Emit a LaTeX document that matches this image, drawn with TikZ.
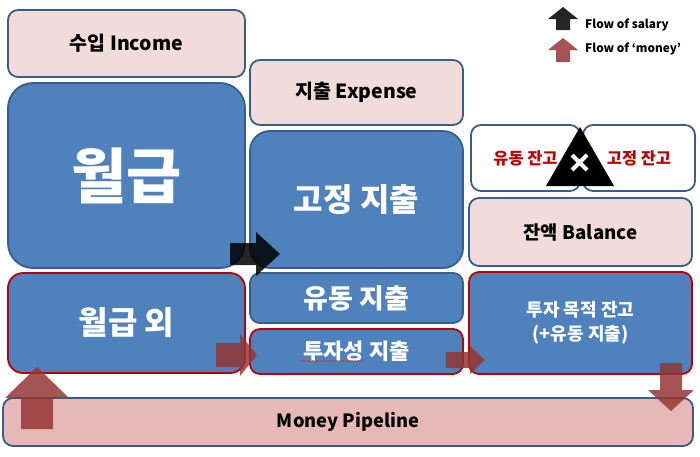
\documentclass[tikz,border=0pt]{standalone}
\usepackage{fontspec}
\setmainfont{Noto Sans CJK KR}
\usetikzlibrary{decorations.pathmorphing}
\definecolor{bfill}{HTML}{4F81BD}
\definecolor{bline}{HTML}{385D8A}
\definecolor{rline}{HTML}{C00000}
\definecolor{pfill}{HTML}{F2DCDB}
\definecolor{pipe}{HTML}{E6B9B8}
\definecolor{rarrow}{HTML}{943634}
\tikzset{
  box/.style={draw=bline, line width=1.8pt, rounded corners=10pt, inner sep=0pt, font=\bfseries, align=center},
  bluebox/.style={box, fill=bfill, text=white},
  redbluebox/.style={bluebox, draw=rline},
  pinkbox/.style={box, fill=pfill, text=black},
  whitebox/.style={box, fill=white, text=rline},
  redarrow/.style={fill=rarrow, fill opacity=0.85, draw=none},
  blackarrow/.style={fill=black, fill opacity=0.85, draw=none},
  legtext/.style={anchor=west, font=\bfseries\fontsize{11.8}{13}\selectfont, inner sep=0pt}
}
\begin{document}
\begin{tikzpicture}[x=1pt,y=-1pt]
\useasboundingbox (0,0) rectangle (700,456);
% left column
\node[pinkbox, minimum width=237pt, minimum height=67pt, font=\bfseries\fontsize{19.5}{22}\selectfont] (income) at (126.5,43.5) {수입 Income};
\node[bluebox, rounded corners=25pt, minimum width=237pt, minimum height=185pt, font=\bfseries\fontsize{60}{66}\selectfont] (salary) at (126.5,175.5) {월급};
\node[redbluebox, rounded corners=15pt, minimum width=237pt, minimum height=100pt, font=\bfseries\fontsize{32}{36}\selectfont] (other) at (126.5,323) {월급 외};
% middle column
\node[pinkbox, minimum width=213pt, minimum height=65pt, font=\bfseries\fontsize{19.5}{22}\selectfont] (expense) at (356.5,92.5) {지출 Expense};
\node[bluebox, rounded corners=20pt, minimum width=213pt, minimum height=137pt, font=\bfseries\fontsize{32}{36}\selectfont] (fixed) at (356.5,199.5) {고정 지출};
\node[bluebox, minimum width=213pt, minimum height=50pt, font=\bfseries\fontsize{27}{30}\selectfont] (flex) at (356.5,298) {유동 지출};
\node[redbluebox, minimum width=213pt, minimum height=45pt, font=\bfseries\fontsize{22}{26}\selectfont] (invest) at (356.5,351.5) {\raisebox{1.5pt}{투자성 지출}};
\draw[rline!80, line width=0.5pt, decorate, decoration={snake, amplitude=0.7pt, segment length=3pt}] (300,361) -- (362,361);
% right column
\node[whitebox, minimum width=109pt, minimum height=66pt, font=\bfseries\fontsize{16.4}{18}\selectfont] (flexbal) at (525.5,158) {유동 잔고};
\node[whitebox, minimum width=112pt, minimum height=66pt, font=\bfseries\fontsize{16.4}{18}\selectfont] (fixbal) at (639,158) {고정 잔고};
\node[pinkbox, minimum width=223pt, minimum height=68pt, font=\bfseries\fontsize{18.7}{21}\selectfont] (balance) at (580.5,232) {잔액 Balance};
\node[redbluebox, minimum width=223pt, minimum height=102pt, font=\bfseries\fontsize{18}{24}\selectfont] (investbal) at (580.5,323) {투자 목적 잔고\\(+유동 지출)};
% pipeline
\node[box, fill=pipe, minimum width=690pt, minimum height=48pt, font=\bfseries\fontsize{18.3}{21}\selectfont] (pipeline) at (348,422) {Money Pipeline};
% warning triangle
\fill[black] (580,127) -- (614,186) -- (546,186) -- cycle;
\draw[white, line width=4pt] (572,155) -- (587,170) (587,155) -- (572,170);
% black arrow (salary)
\fill[blackarrow] (230,243) -- (256,243) -- (256,232) -- (280,254) -- (256,276) -- (256,265) -- (230,265) -- cycle;
% red arrows (money)
\fill[redarrow] (216,343) -- (240,343) -- (240,334) -- (257,355) -- (240,376) -- (240,367) -- (216,367) -- cycle;
\fill[redarrow] (446,352) -- (470,352) -- (470,346) -- (485,360) -- (470,374) -- (470,368) -- (446,368) -- cycle;
\fill[redarrow] (21,429) -- (21,398) -- (5,398) -- (37,367) -- (69,398) -- (53,398) -- (53,429) -- cycle;
\fill[redarrow] (660,363) -- (682,363) -- (682,390) -- (694,390) -- (671,411) -- (648,390) -- (660,390) -- cycle;
% legend
\fill[black, fill opacity=0.85] (556,30) -- (556,19) -- (548,19) -- (563,7) -- (578,19) -- (570,19) -- (570,30) -- cycle;
\node[legtext] (leg1) at (585,25) {Flow of salary};
\fill[redarrow] (556,62) -- (556,50) -- (548,50) -- (563,38) -- (578,50) -- (570,50) -- (570,62) -- cycle;
\node[legtext] (leg2) at (585,49) {Flow of ‘money’};
\end{tikzpicture}
\end{document}
